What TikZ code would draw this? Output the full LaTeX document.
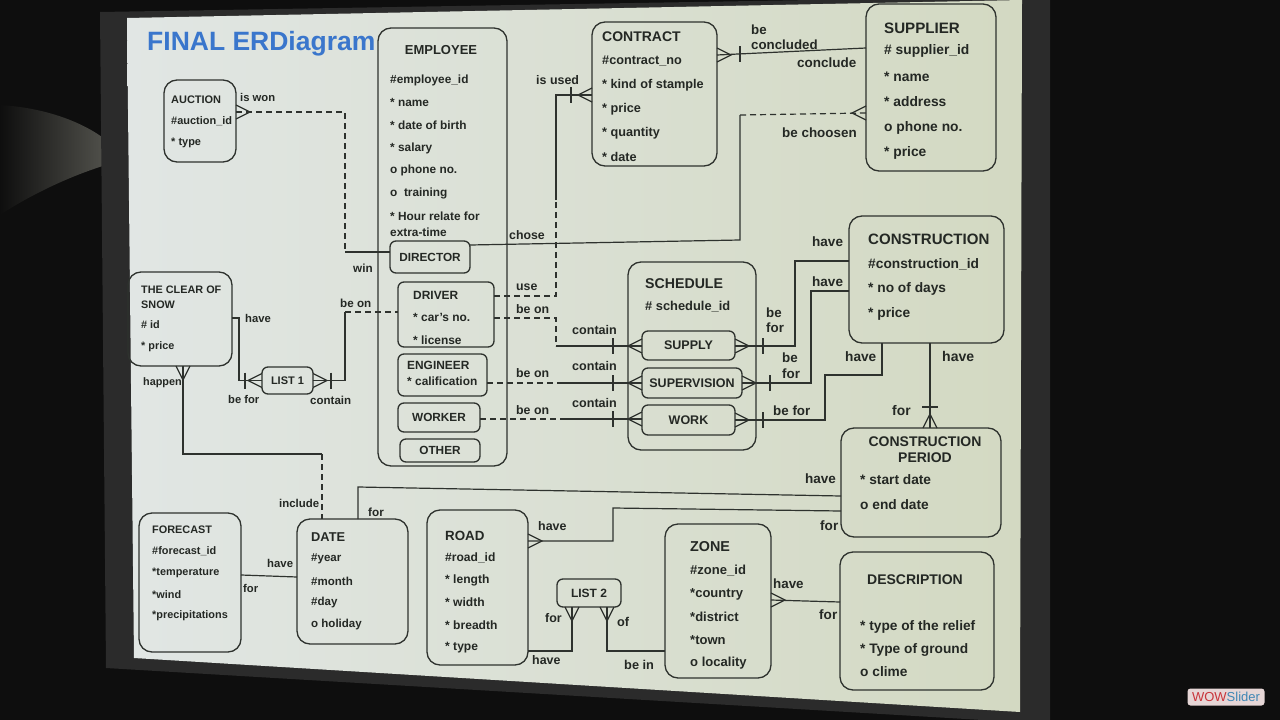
\documentclass[tikz,border=0pt]{standalone}
\usepackage{fontspec}
\setmainfont{Liberation Sans}
\usepackage{tikz}
\usetikzlibrary{positioning, calc}
\definecolor{erDark}{HTML}{0E0E0E}
\definecolor{erFrame}{HTML}{2B2B2B}
\definecolor{erWall}{HTML}{55554F}
\definecolor{erScreenL}{HTML}{E1E6E4}
\definecolor{erScreenR}{HTML}{D3D9C2}
\definecolor{erLine}{HTML}{2E322E}
\definecolor{erText}{HTML}{242824}
\definecolor{erTitle}{HTML}{3A76CC}
\definecolor{erBadge}{HTML}{E6D6D6}
\definecolor{erWow}{HTML}{C8343A}
\definecolor{erSlider}{HTML}{3F86B4}

\newcommand{\erfs}{11}
\newcommand{\sizeat}[1]{\pgfmathsetmacro{\erfs}{10.8+(#1-130)*0.004}}
\newcommand{\attrlist}[5]{\sizeat{#2}\foreach \txt [count=\i from 0] in {#5}
  {\node[attr=\erfs] (#1-\i) at (#2,#3+\i*#4) {\txt};}}
\newcommand{\rl}[4]{\sizeat{#2}\node[attr=\erfs] (#1) at (#2,#3) {#4};}
\newcommand{\hd}[4]{\sizeat{#2}\pgfmathsetmacro{\erfs}{\erfs+1.3}\node[attr=\erfs] (#1) at (#2,#3) {#4};}
\newcommand{\crow}[2]{\draw[rel, shift={(#1)}, rotate=#2] (0,-7) -- (14,0) -- (0,7);}
\newcommand{\ubar}[2]{\draw[rel, shift={(#1)}, rotate=#2] (0,-8) -- (0,8);}

\begin{document}
\begin{tikzpicture}[x=1pt, y=-1pt,
  ent/.style={draw=erLine, line width=1.3pt, rounded corners=13pt, inner sep=0pt, outer sep=0pt},
  sub/.style={ent, rounded corners=6pt, text=erText, font=\fontsize{#1}{#1}\selectfont\bfseries},
  attr/.style={anchor=west, inner sep=0pt, text=erText, font=\fontsize{#1}{#1}\selectfont\bfseries},
  rel/.style={draw=erLine, line width=1.2pt},
  opt/.style={rel, dash pattern=on 6pt off 4pt}]

\fill[erDark] (0,0) rectangle (1280,720);
\useasboundingbox (0,0) rectangle (1280,720);
\shade[left color=erDark, right color=erWall] (0,105) .. controls (50,108) and (90,125) .. (112,145) -- (106,165) .. controls (70,176) and (30,195) .. (0,215) -- cycle;
\fill[erFrame] (100,12) -- (1050,-4) -- (1050,724) -- (106,668) -- cycle;
\shade[left color=erScreenL, right color=erScreenR] (127,18) -- (1022,0) -- (1020,712) -- (134,658) -- cycle;

\node[anchor=west, inner sep=0pt, text=erTitle, font=\fontsize{26.5}{26.5}\selectfont\bfseries] (title) at (147,44) {FINAL ERDiagram};

% entities
\node[ent, minimum width=72, minimum height=82] (auction) at (200,121) {};
\attrlist{auction}{171}{100}{21.5}{AUCTION, \#auction\_id, * type}

\node[ent, minimum width=129, minimum height=438] (employee) at (442.5,247) {};
\node[attr=13, anchor=center] (employee-t) at (441,50) {EMPLOYEE};
\attrlist{employee}{390}{80}{22.7}{\#employee\_id, * name, * date of birth, * salary, o phone no., o\ \ training, * Hour relate for}
\rl{employee-x}{390}{232}{extra-time}
\node[sub=11.8, minimum width=80, minimum height=32] (director) at (430,257) {DIRECTOR};
\node[ent, rounded corners=6pt, minimum width=96, minimum height=65] (driver) at (446,314.5) {};
\attrlist{driver}{413}{295}{22.5}{DRIVER, * car's no., * license}
\node[ent, rounded corners=6pt, minimum width=89, minimum height=42] (engineer) at (442.5,375) {};
\attrlist{engineer}{407}{365}{16}{ENGINEER, * calification}
\node[sub=11.8, minimum width=82, minimum height=29] (worker) at (439,417.5) {WORKER};
\node[sub=11.8, minimum width=80, minimum height=23] (other) at (440,450.5) {OTHER};

\node[ent, minimum width=125, minimum height=144] (contract) at (654.5,94) {};
\hd{contract-t}{602}{37}{CONTRACT}
\attrlist{contract}{602}{61}{24}{\#contract\_no, * kind of stample, * price, * quantity, * date}

\node[ent, minimum width=130, minimum height=167] (supplier) at (931,87.5) {};
\hd{supplier-t}{884}{28}{SUPPLIER}
\attrlist{supplier}{884}{51}{25.5}{\# supplier\_id, * name, * address, o phone no., * price}

\node[ent, minimum width=104, minimum height=94] (snow) at (180,319) {};
\attrlist{snow}{141}{290}{15}{THE CLEAR OF, SNOW}
\attrlist{snowa}{141}{325}{22}{\# id, * price}
\node[sub=11, minimum width=51, minimum height=27] (list1) at (287.5,380.5) {LIST 1};

\node[ent, minimum width=128, minimum height=188] (schedule) at (692,356) {};
\hd{schedule-t}{645}{284}{SCHEDULE}
\rl{schedule-0}{645}{307}{\# schedule\_id}
\node[sub=12.5, minimum width=93, minimum height=29] (supply) at (688.5,345.5) {SUPPLY};
\node[sub=12.5, minimum width=100, minimum height=30] (supervision) at (692,383) {SUPERVISION};
\node[sub=12.5, minimum width=93, minimum height=30] (work) at (688.5,420) {WORK};

\node[ent, minimum width=155, minimum height=127] (construction) at (926.5,279.5) {};
\hd{construction-t}{868}{239}{CONSTRUCTION}
\attrlist{construction}{868}{264}{25}{\#construction\_id, * no of days, * price}

\node[ent, minimum width=160, minimum height=109] (period) at (921,482.5) {};
\node[attr=14, anchor=center] (period-t) at (925,442) {CONSTRUCTION};
\node[attr=14, anchor=center] (period-u) at (925,458) {PERIOD};
\attrlist{period}{860}{480}{25}{* start date, o end date}

\node[ent, minimum width=102, minimum height=139] (forecast) at (190,582.5) {};
\attrlist{forecast}{152}{530}{21.5}{FORECAST, \#forecast\_id, *temperature, *wind, *precipitations}

\node[ent, minimum width=111, minimum height=125] (date) at (352.5,581.5) {};
\hd{date-t}{311}{537}{DATE}
\attrlist{date}{311}{559}{22}{\#year, \#month, \#day, o holiday}

\node[ent, minimum width=101, minimum height=155] (road) at (477.5,587.5) {};
\hd{road-t}{445}{536}{ROAD}
\attrlist{road}{445}{558}{22.3}{\#road\_id, * length, * width, * breadth, * type}
\node[sub=12, minimum width=64, minimum height=28] (list2) at (589,593) {LIST 2};

\node[ent, minimum width=106, minimum height=154] (zone) at (718,601) {};
\hd{zone-t}{690}{547}{ZONE}
\attrlist{zone}{690}{571}{23}{\#zone\_id, *country, *district, *town, o locality}

\node[ent, minimum width=154, minimum height=138] (description) at (917,621) {};
\node[attr=14, anchor=center] (description-t) at (915,580) {DESCRIPTION};
\attrlist{description}{860}{627}{22.5}{* type of the relief, * Type of ground, o clime}

% relationships
\draw[opt] (auction.east |- 0,112) -| (345,252);
\draw[rel] (345,252) -- (director.west |- 0,252);
\crow{auction.east |- 0,112}{0}

\draw[rel] (director.east |- 0,245) -- (740,240) -- (740,115);
\draw[opt] (740,115) -- (supplier.west |- 0,113);
\crow{supplier.west |- 0,113}{180}

\draw[rel] (contract.east |- 0,55) -- (supplier.west |- 0,48);
\crow{contract.east |- 0,55}{0}
\ubar{740,54}{0}

\draw[opt] (driver.east |- 0,296) -| (556,200);
\draw[rel] (556,200) |- (contract.west |- 0,95);
\crow{contract.west |- 0,95}{180}
\ubar{571,95}{0}

\draw[opt] (driver.east |- 0,318) -| (556,346);
\draw[rel] (556,346) -- (supply.west |- 0,346);
\crow{supply.west |- 0,346}{180}
\ubar{613,346}{0}

\draw[opt] (engineer.east |- 0,383) -- (560,383);
\draw[rel] (560,383) -- (supervision.west |- 0,383);
\crow{supervision.west |- 0,383}{180}
\ubar{613,383}{0}

\draw[opt] (worker.east |- 0,419) -- (560,419);
\draw[rel] (560,419) -- (work.west |- 0,419);
\crow{work.west |- 0,419}{180}
\ubar{613,419}{0}

\draw[rel] (supply.east |- 0,346) -| (795,261) -- (construction.west |- 0,261);
\crow{supply.east |- 0,346}{0}
\ubar{763,346}{0}

\draw[rel] (supervision.east |- 0,383) -| (811,291) -- (construction.west |- 0,291);
\crow{supervision.east |- 0,383}{0}
\ubar{770,383}{0}

\draw[rel] (work.east |- 0,420) -| (825,375) -| (construction.south -| 882,0);
\crow{work.east |- 0,420}{0}
\ubar{763,420}{0}

\draw[rel] (construction.south -| 930,0) -- (period.north -| 930,0);
\crow{period.north -| 930,0}{90}
\ubar{930,407}{90}

\draw[rel] (date.north -| 358,0) -- (358,487) -- (period.west |- 0,496);

\draw[rel] (road.east |- 0,541) -| (613,508) -- (period.west |- 0,511);
\crow{road.east |- 0,541}{0}

\draw[rel] (forecast.east |- 0,575) -- (date.west |- 0,577);

\draw[rel] (snow.south -| 183,0) |- (322,454);
\draw[opt] (322,454) -- (date.north -| 322,0);
\crow{snow.south -| 183,0}{-90}

\draw[rel] (snow.east |- 0,318) -- (239,318) |- (list1.west);
\crow{list1.west}{180}
\ubar{245,380.5}{0}

\draw[rel] (list1.east) -| (345,312);
\draw[opt] (345,312) -- (driver.west |- 0,312);
\crow{list1.east}{0}
\ubar{331,380.5}{0}

\draw[rel] (road.east |- 0,651) -| (list2.south -| 572,0);
\crow{list2.south -| 572,0}{-90}
\draw[rel] (zone.west |- 0,651) -| (list2.south -| 607,0);
\crow{list2.south -| 607,0}{-90}

\draw[rel] (zone.east |- 0,600) -- (description.west |- 0,602);
\crow{zone.east |- 0,600}{0}

% labels
\rl{l-iswon}{240}{97}{is won}
\rl{l-win}{353}{268}{win}
\rl{l-chose}{509}{235}{chose}
\rl{l-bechoosen}{782}{133}{be choosen}
\rl{l-be1}{751}{30}{be}
\rl{l-concluded}{751}{45}{concluded}
\rl{l-conclude}{797}{63}{conclude}
\rl{l-isused}{536}{80}{is used}
\rl{l-use}{516}{287}{use}
\rl{l-beon1}{516}{309}{be on}
\rl{l-contain1}{572}{330}{contain}
\rl{l-beon2}{516}{373}{be on}
\rl{l-contain2}{572}{366}{contain}
\rl{l-beon3}{516}{410}{be on}
\rl{l-contain3}{572}{403}{contain}
\rl{l-be2}{766}{313}{be}
\rl{l-for1}{766}{328}{for}
\rl{l-have1}{812}{242}{have}
\rl{l-have2}{812}{282}{have}
\rl{l-be3}{782}{358}{be}
\rl{l-for2}{782}{374}{for}
\rl{l-befor1}{773}{411}{be for}
\rl{l-have3}{845}{357}{have}
\rl{l-have4}{942}{356}{have}
\rl{l-for3}{892}{411}{for}
\rl{l-happen}{143}{383}{happen}
\rl{l-have5}{245}{318}{have}
\rl{l-befor2}{228}{399}{be for}
\rl{l-contain4}{310}{400}{contain}
\rl{l-beon4}{340}{303}{be on}
\rl{l-include}{279}{503}{include}
\rl{l-for4}{368}{512}{for}
\rl{l-have6}{805}{479}{have}
\rl{l-have7}{538}{526}{have}
\rl{l-for5}{820}{526}{for}
\rl{l-have8}{267}{563}{have}
\rl{l-for6}{243}{588}{for}
\rl{l-for7}{545}{618}{for}
\rl{l-have9}{532}{660}{have}
\rl{l-of}{617}{622}{of}
\rl{l-bein}{624}{665}{be in}
\rl{l-have10}{773}{584}{have}
\rl{l-for8}{819}{615}{for}

\node[fill=erBadge, rounded corners=3pt, inner sep=0pt, minimum width=77, minimum height=17, font=\fontsize{13}{13}\selectfont] (badge) at (1226,697) {\textcolor{erWow}{WOW}\textcolor{erSlider}{Slider}};
\end{tikzpicture}
\end{document}
